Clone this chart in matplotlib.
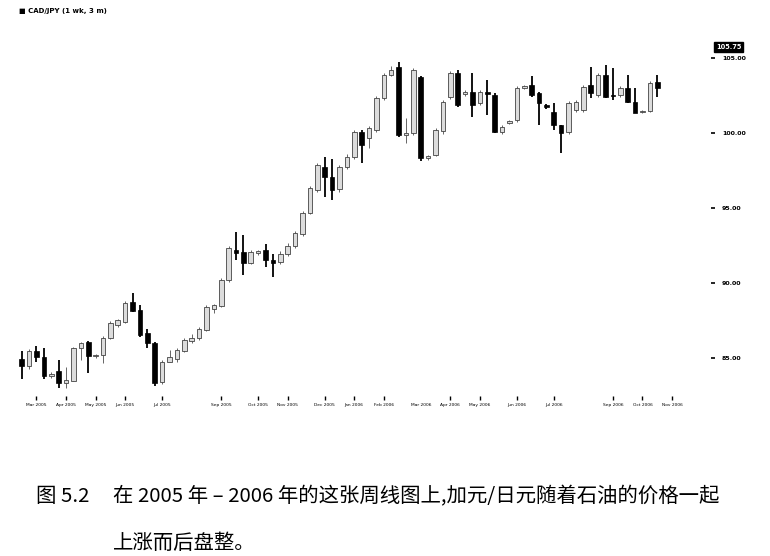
import matplotlib
matplotlib.use("Agg")
import matplotlib.pyplot as plt
import numpy as np

# ---- data (weekly CAD/JPY) ----
opens = [84.93, 84.47, 85.47, 85.07, 83.80, 84.13, 83.33, 83.50, 85.67, 86.07,
         85.13, 85.20, 86.33, 87.20, 87.40, 88.73, 88.20, 86.67, 86.00, 83.40,
         84.73, 84.93, 85.47, 86.13, 86.33, 86.87, 88.27, 88.47, 90.20, 92.20,
         92.07, 91.33, 92.00, 92.20, 91.53, 91.40, 91.93, 92.47, 93.27, 94.67,
         96.20, 97.73, 97.07, 96.27, 97.73, 98.40, 100.07, 99.67, 100.20, 102.33,
         103.87, 104.40, 99.87, 100.00, 103.73, 98.33, 98.53, 100.13, 102.40, 104.00,
         102.60, 102.73, 102.00, 102.73, 102.53, 100.07, 100.67, 100.87, 103.00, 103.20,
         102.67, 101.87, 101.40, 100.53, 100.07, 101.53, 101.53, 103.20, 102.53, 103.87,
         102.53, 102.53, 103.00, 102.07, 101.40, 101.47, 103.40]
closes = [84.47, 85.47, 85.07, 83.80, 83.90, 83.33, 83.50, 85.67, 86.00, 85.13,
          85.20, 86.33, 87.33, 87.53, 88.67, 88.13, 86.53, 86.00, 83.33, 84.73,
          85.07, 85.53, 86.20, 86.33, 86.93, 88.40, 88.53, 90.20, 92.33, 92.00,
          91.33, 92.07, 92.13, 91.53, 91.33, 91.93, 92.47, 93.33, 94.67, 96.33,
          97.87, 97.07, 96.20, 97.73, 98.40, 100.07, 99.20, 100.33, 102.33, 103.87,
          104.20, 99.87, 100.00, 104.20, 98.33, 98.47, 100.20, 102.07, 104.00, 101.87,
          102.75, 101.87, 102.73, 102.60, 100.07, 100.40, 100.80, 103.00, 103.13, 102.53,
          102.00, 101.73, 100.53, 100.00, 102.00, 102.07, 103.07, 102.67, 103.87, 102.40,
          102.47, 103.00, 102.07, 101.33, 101.47, 103.33, 103.00]
highs = [85.47, 85.60, 85.80, 85.67, 84.10, 84.87, 84.40, 85.73, 86.10, 86.13,
         85.27, 86.47, 87.47, 87.60, 88.80, 89.33, 88.53, 86.93, 86.07, 84.87,
         85.53, 85.67, 86.33, 86.60, 87.07, 88.53, 88.60, 90.33, 92.47, 93.40,
         93.20, 92.20, 92.20, 92.60, 91.93, 92.13, 92.67, 93.47, 94.80, 96.47,
         98.00, 98.40, 98.27, 97.87, 98.60, 100.20, 100.20, 100.47, 102.47, 104.00,
         104.47, 104.73, 101.00, 104.33, 103.80, 98.53, 100.33, 102.20, 104.13, 104.20,
         102.90, 104.00, 102.87, 103.53, 102.67, 100.53, 100.87, 103.13, 103.20, 103.80,
         102.73, 101.93, 102.00, 100.53, 102.13, 102.20, 103.20, 104.40, 104.00, 104.53,
         104.33, 103.13, 103.87, 103.00, 101.53, 103.47, 103.87]
lows = [83.60, 84.30, 84.73, 83.60, 83.67, 83.00, 83.00, 83.47, 84.87, 84.00,
        85.00, 84.67, 86.27, 87.07, 87.33, 88.07, 86.40, 85.67, 83.13, 83.27,
        84.73, 84.73, 85.40, 86.00, 86.20, 86.80, 88.00, 88.40, 90.07, 91.53,
        90.53, 91.27, 91.90, 91.07, 90.40, 91.27, 91.80, 92.33, 93.13, 94.60,
        96.07, 95.73, 95.53, 96.07, 97.60, 98.27, 98.00, 99.00, 100.07, 102.20,
        103.80, 99.73, 99.33, 99.87, 98.13, 98.20, 98.47, 99.93, 102.27, 101.73,
        102.50, 101.07, 101.87, 101.20, 100.00, 99.93, 100.60, 100.73, 102.93, 102.40,
        100.53, 101.60, 100.20, 98.67, 99.93, 101.40, 101.40, 102.33, 102.40, 102.33,
        102.20, 102.40, 102.00, 101.33, 101.33, 101.40, 102.40]

x_tick_pos = [2, 6, 10, 14, 19, 27, 32, 36, 41, 45, 49, 54, 58, 62, 67, 72, 80, 84, 88]
x_tick_labels = ["Mar 2005", "Apr 2005", "May 2005", "Jun 2005", "Jul 2005", "Sep 2005",
                 "Oct 2005", "Nov 2005", "Dec 2005", "Jan 2006", "Feb 2006", "Mar 2006",
                 "Apr 2006", "May 2006", "Jun 2006", "Jul 2006", "Sep 2006", "Oct 2006",
                 "Nov 2006"]
y_ticks = [85, 90, 95, 100, 105]
y_tick_labels = ["85.00", "90.00", "95.00", "100.00", "105.00"]
last_label = 105.75
title = "\u25a0 CAD/JPY (1 wk, 3 m)"
caption_fig = "图 5.2"
caption_l1 = "在 2005 年 – 2006 年的这张周线图上,加元/日元随着石油的价格一起"
caption_l2 = "上涨而后盘整。"

W, H = 770, 556
fig = plt.figure(figsize=(W / 100, H / 100), dpi=100)
fig.patch.set_facecolor("white")

# axes placement in pixels
L_px, R_px, T_px, B_px = 10, 711, 40, 396
ax = fig.add_axes([L_px / W, 1 - B_px / H, (R_px - L_px) / W, (B_px - T_px) / H])
x0_px, step_px = 21.7, 7.39
ax.set_xlim((L_px - x0_px) / step_px, (R_px - x0_px) / step_px)
y_px105, px_per = 58, 15.0
ax.set_ylim(105 - (B_px - y_px105) / px_per, 105 - (T_px - y_px105) / px_per)

o = np.array(opens); c = np.array(closes); h = np.array(highs); l = np.array(lows)
x = np.arange(len(o))
up = c >= o
width = 0.62

# wicks
ax.vlines(x[~up], l[~up], h[~up], color="black", linewidth=1.3, zorder=2)
ax.vlines(x[up], l[up], h[up], color="#666666", linewidth=0.7, zorder=2)
# bodies
bottom = np.minimum(o, c)
height = np.maximum(np.abs(c - o), 0.09)
ax.bar(x[~up], height[~up], bottom=bottom[~up], width=width,
       color="black", edgecolor="black", linewidth=0.5, zorder=3)
ax.bar(x[up], height[up], bottom=bottom[up], width=width,
       color="#dcdcdc", edgecolor="#444444", linewidth=0.6, zorder=3)

for s in ax.spines.values():
    s.set_visible(False)

ax.yaxis.tick_right()
ax.set_yticks(y_ticks)
ax.set_yticklabels(y_tick_labels, fontsize=4.5, fontweight="bold")
ax.tick_params(axis="y", direction="out", length=3, width=1.2, pad=5, colors="black")

ax.set_xticks(x_tick_pos)
ax.set_xticklabels(x_tick_labels, fontsize=3.2, color="#333333")
ax.tick_params(axis="x", direction="out", length=3, width=1.0, pad=2, colors="black")
for k, pos in enumerate(x_tick_pos):
    if pos == 54:
        ax.xaxis.get_major_ticks()[k].tick1line.set_visible(False)

# last price box
ax.text(1.0 + 5 / (R_px - L_px), last_label, "105.75", transform=ax.get_yaxis_transform(),
        fontsize=4.8, fontweight="bold", color="white", va="center", ha="left",
        bbox=dict(boxstyle="square,pad=0.3", facecolor="black", edgecolor="black"),
        clip_on=False)

fig.text(19 / W, 1 - 11 / H, title, fontsize=5, fontweight="bold", va="center", ha="left")

cjk = ["Noto Sans CJK SC", "DejaVu Sans"]
fs = 14.7
fig.text(36 / W, 1 - 497 / H, caption_fig, fontsize=fs, family=cjk, va="center", ha="left")
fig.text(113 / W, 1 - 497 / H, caption_l1, fontsize=fs, family=cjk, va="center", ha="left")
fig.text(113 / W, 1 - 543 / H, caption_l2, fontsize=fs, family=cjk, va="center", ha="left")

fig.savefig("out.png", dpi=100, facecolor="white")
